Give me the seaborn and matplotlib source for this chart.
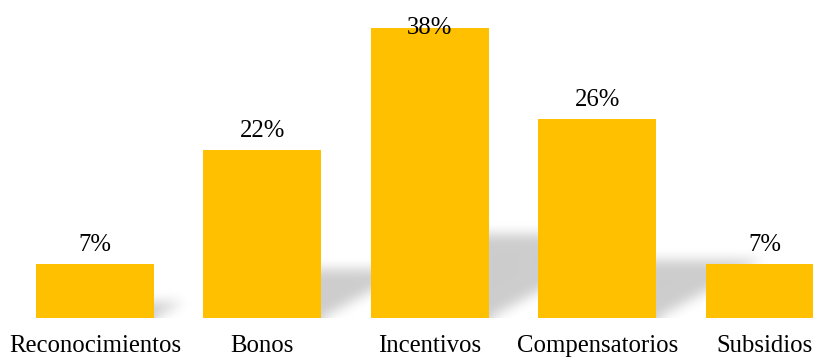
import numpy as np
import pandas as pd
import matplotlib
matplotlib.use("Agg")
import matplotlib.pyplot as plt
from matplotlib.path import Path
import seaborn as sns

categories = ["Reconocimientos", "Bonos", "Incentivos", "Compensatorios", "Subsidios"]
values = [7, 22, 38, 26, 7]
labels = ["7%", "22%", "38%", "26%", "7%"]

BAR_COLOR = "#FFC000"

sns.set_theme(style="white")
plt.rcParams["font.family"] = ["Liberation Serif", "DejaVu Serif"]

W_PX, H_PX = 813, 358
fig = plt.figure(figsize=(W_PX / 100, H_PX / 100), dpi=100)
ax_bottom_px = 40
ax = fig.add_axes([0, ax_bottom_px / H_PX, 1, 1 - ax_bottom_px / H_PX])

df = pd.DataFrame({"categoria": categories, "valor": values})
bar_width = 0.705
sns.barplot(data=df, x="categoria", y="valor", color=BAR_COLOR, width=bar_width,
            saturation=1, linewidth=0, edgecolor="none", ax=ax, zorder=3)

xlim = (-0.567, 4.287)
ylim = (0, 41.6)
ax.set_xlim(*xlim)
ax.set_ylim(*ylim)

# Perspective shadows cast behind each bar, blurred on a raster grid
axw = W_PX
axh = H_PX - ax_bottom_px
px_per_x = axw / (xlim[1] - xlim[0])
px_per_y = axh / (ylim[1] - ylim[0])
gx = xlim[0] + (np.arange(axw) + 0.5) / px_per_x
gy = ylim[0] + (np.arange(axh) + 0.5) / px_per_y
XX, YY = np.meshgrid(gx, gy)
pts = np.column_stack([XX.ravel(), YY.ravel()])
mask = np.zeros(XX.size)
h_frac = 0.29
slope = 0.55  # vertical px per horizontal px along the shadow edge
for i, v in enumerate(values):
    sh = v * h_frac
    shift = (sh * px_per_y / slope) / px_per_x
    xs, x1 = i + bar_width * 0.1, i + bar_width / 2
    poly = Path([(xs, 0), (x1, 0), (x1 + shift, sh), (xs, sh), (xs, 0)])
    mask = np.maximum(mask, poly.contains_points(pts).astype(float))
mask = mask.reshape(XX.shape)

sigma = 6.0
k = np.arange(-18, 19)
kern = np.exp(-k ** 2 / (2 * sigma ** 2))
kern /= kern.sum()
pad = 18
m = np.pad(mask, pad, mode="edge")
m = np.apply_along_axis(lambda r: np.convolve(r, kern, mode="same"), 1, m)
m = np.apply_along_axis(lambda c: np.convolve(c, kern, mode="same"), 0, m)
m = m[pad:-pad, pad:-pad]

rgba = np.zeros((axh, axw, 4))
rgba[..., 3] = m * 0.2
ax.imshow(rgba, extent=(xlim[0], xlim[1], ylim[0], ylim[1]), origin="lower",
          aspect="auto", zorder=1, interpolation="bilinear")
ax.set_xlim(*xlim)
ax.set_ylim(*ylim)

# Value labels above bars, kept inside the top of the axes
label_gap = 13 / px_per_y
label_cap = ylim[1] - 34 / px_per_y
for i, (v, t) in enumerate(zip(values, labels)):
    ax.text(i, min(v + label_gap, label_cap), t, ha="center", va="baseline",
            fontsize=17.8, color="black", zorder=4)

ax.set_xlabel("")
ax.set_ylabel("")
ax.set_yticks([])
ax.tick_params(axis="x", length=0, pad=12, labelsize=17.8, labelcolor="black")
for s in ax.spines.values():
    s.set_visible(False)
ax.set_facecolor("white")
fig.patch.set_facecolor("white")

fig.savefig("out.png", dpi=100)
